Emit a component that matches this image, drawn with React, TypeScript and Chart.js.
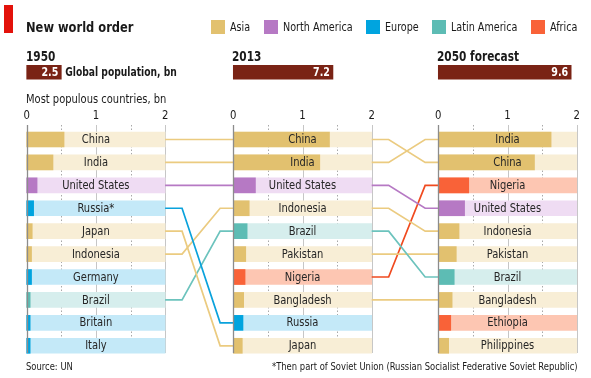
import React, { useEffect, useRef } from "react";
import { Chart, registerables } from "chart.js";

Chart.register(...registerables);

// ---------- data ----------
const REGIONS = ["Asia", "North America", "Europe", "Latin America", "Africa"];

const countries1950 = ["China", "India", "United States", "Russia*", "Japan", "Indonesia", "Germany", "Brazil", "Britain", "Italy"];
const regions1950 = ["Asia", "Asia", "North America", "Europe", "Asia", "Asia", "Europe", "Latin America", "Europe", "Europe"];
const pop1950 = [0.54, 0.38, 0.15, 0.1, 0.08, 0.07, 0.07, 0.05, 0.05, 0.05];

const countries2013 = ["China", "India", "United States", "Indonesia", "Brazil", "Pakistan", "Nigeria", "Bangladesh", "Russia", "Japan"];
const regions2013 = ["Asia", "Asia", "North America", "Asia", "Latin America", "Asia", "Africa", "Asia", "Europe", "Asia"];
const pop2013 = [1.39, 1.25, 0.32, 0.23, 0.2, 0.18, 0.17, 0.15, 0.14, 0.13];

const countries2050 = ["India", "China", "Nigeria", "United States", "Indonesia", "Pakistan", "Brazil", "Bangladesh", "Ethiopia", "Philippines"];
const regions2050 = ["Asia", "Asia", "Africa", "North America", "Asia", "Asia", "Latin America", "Asia", "Africa", "Asia"];
const pop2050 = [1.63, 1.39, 0.44, 0.38, 0.3, 0.26, 0.23, 0.2, 0.18, 0.15];

const panelTitles = ["1950", "2013", "2050 forecast"];
const globalPop = [2.5, 7.2, 9.6];

// rank links: [row in earlier panel, row in next panel]
const links1950to2013 = [[0, 0], [1, 1], [2, 2], [3, 8], [4, 9], [5, 3], [7, 4]];
const links2013to2050 = [[0, 1], [1, 0], [2, 3], [3, 4], [4, 6], [5, 5], [6, 2], [7, 7]];

const axisTicks = [0, 1, 2];
const gridSteps = [0.5, 1, 1.5, 2];

// ---------- styles / layout ----------
const DARK: Record<string, string> = {
  Asia: "#e2c16f",
  "North America": "#b679c4",
  Europe: "#00a4df",
  "Latin America": "#5dbcb4",
  Africa: "#f96238",
};
const LIGHT: Record<string, string> = {
  Asia: "#f8eed6",
  "North America": "#efdcf3",
  Europe: "#c4e9f8",
  "Latin America": "#d6eeed",
  Africa: "#fdc6b2",
};
const LINE: Record<string, string> = {
  Asia: "#ebcb80",
  "North America": "#b679c4",
  Europe: "#0aa2dc",
  "Latin America": "#6cc3bd",
  Africa: "#f04a1f",
};
const GLOBAL_COLOR = "#7a2315";
const FONT = '"DejaVu Sans Condensed", "DejaVu Sans", sans-serif';

const W = 591;
const H = 378;
const PX_PER_UNIT = 69.2;
const ZERO_PX = 26.7;
const ROW0_PX = 139.5;
const ROW_PX = 22.92;
const X_MIN = -ZERO_PX / PX_PER_UNIT;
const X_MAX = X_MIN + W / PX_PER_UNIT;
const Y_MIN = -ROW0_PX / ROW_PX;
const Y_MAX = Y_MIN + H / ROW_PX;
const PANEL_OFFSETS = [0, (233.3 - ZERO_PX) / PX_PER_UNIT, (438.3 - ZERO_PX) / PX_PER_UNIT];
const AXIS_MAX = 2;
const GLOBAL_ROW = -2.936;
const GLOBAL_DIVISOR = 5;
const GRID_TOP_ROW = -0.633;
const GRID_BOTTOM_ROW = 9.315;
const TICK_LABEL_ROW = -1.04;
const LINK_OUT = 0.245;
const LINK_IN = 0.19;

const panels = [
  { names: countries1950, regions: regions1950, values: pop1950 },
  { names: countries2013, regions: regions2013, values: pop2013 },
  { names: countries2050, regions: regions2050, values: pop2050 },
];
const linkSets = [links1950to2013, links2013to2050];

function buildDatasets() {
  const valueData: any[] = [];
  const valueColors: string[] = [];
  const bgData: any[] = [];
  const bgColors: string[] = [];
  panels.forEach((p, pi) => {
    const off = PANEL_OFFSETS[pi];
    p.values.forEach((v, r) => {
      valueData.push({ x: [off, off + v], y: r });
      valueColors.push(DARK[p.regions[r]]);
      bgData.push({ x: [off, off + AXIS_MAX], y: r });
      bgColors.push(LIGHT[p.regions[r]]);
    });
  });
  const globalData = globalPop.map((g, pi) => ({ x: [PANEL_OFFSETS[pi], PANEL_OFFSETS[pi] + g / GLOBAL_DIVISOR], y: GLOBAL_ROW }));

  const lineSets: any[] = [];
  linkSets.forEach((links, li) => {
    const from = PANEL_OFFSETS[li] + AXIS_MAX;
    const to = PANEL_OFFSETS[li + 1];
    links.forEach(([a, b]) => {
      lineSets.push({
        type: "line",
        indexAxis: "x",
        data: [
          { x: from, y: a },
          { x: from + LINK_OUT, y: a },
          { x: to - LINK_IN, y: b },
          { x: to, y: b },
        ],
        borderColor: LINE[panels[li].regions[a]],
        borderWidth: 1.7,
        pointRadius: 0,
        tension: 0,
        fill: false,
      });
    });
  });

  return [
    { type: "bar", data: valueData, backgroundColor: valueColors, barThickness: 15, grouped: false, borderWidth: 0 },
    { type: "bar", data: globalData, backgroundColor: GLOBAL_COLOR, barThickness: 14, grouped: false, borderWidth: 0 },
    ...lineSets,
    { type: "bar", data: bgData, backgroundColor: bgColors, barThickness: 15, grouped: false, borderWidth: 0 },
  ];
}

function drawText(ctx: any, text: string, x: number, y: number, align: string, sx: number) {
  ctx.save();
  ctx.translate(x, y);
  ctx.scale(sx, 1);
  ctx.textAlign = align;
  ctx.textBaseline = "middle";
  ctx.fillText(text, 0, 0);
  ctx.restore();
}

const panelPlugin = {
  id: "panelDecor",
  beforeDatasetsDraw(chart: any) {
    const { ctx } = chart;
    const x = chart.scales.x;
    const y = chart.scales.y;
    const top = y.getPixelForValue(GRID_TOP_ROW);
    const bottom = y.getPixelForValue(GRID_BOTTOM_ROW);
    ctx.save();
    PANEL_OFFSETS.forEach((off) => {
      gridSteps.forEach((t) => {
        const px = Math.round(x.getPixelForValue(off + t)) + 0.5;
        ctx.beginPath();
        ctx.lineWidth = 1;
        if (t % 1 !== 0) {
          ctx.setLineDash([1.5, 2]);
          ctx.strokeStyle = "#a8a8a8";
        } else {
          ctx.setLineDash([]);
          ctx.strokeStyle = "#c6c6c6";
        }
        ctx.moveTo(px, top);
        ctx.lineTo(px, bottom);
        ctx.stroke();
      });
      ctx.setLineDash([]);
      ctx.fillStyle = "#1a1a1a";
      ctx.font = `12.5px ${FONT}`;
      axisTicks.forEach((t) => {
        drawText(ctx, String(t), x.getPixelForValue(off + t), y.getPixelForValue(TICK_LABEL_ROW), "center", 0.9);
      });
    });
    ctx.restore();
  },
  afterDatasetsDraw(chart: any) {
    const { ctx } = chart;
    const x = chart.scales.x;
    const y = chart.scales.y;
    const top = y.getPixelForValue(GRID_TOP_ROW);
    const bottom = y.getPixelForValue(GRID_BOTTOM_ROW);
    ctx.save();
    PANEL_OFFSETS.forEach((off, pi) => {
      const px = Math.round(x.getPixelForValue(off)) + 0.5;
      ctx.beginPath();
      ctx.strokeStyle = "#8c8c8c";
      ctx.lineWidth = 1.3;
      ctx.moveTo(px, top);
      ctx.lineTo(px, bottom);
      ctx.stroke();

      ctx.fillStyle = "#262626";
      ctx.font = `12px ${FONT}`;
      panels[pi].names.forEach((n, r) => {
        drawText(ctx, n, x.getPixelForValue(off + AXIS_MAX / 2), y.getPixelForValue(r) + 0.5, "center", 0.92);
      });

      const end = x.getPixelForValue(off + globalPop[pi] / GLOBAL_DIVISOR);
      const gy = y.getPixelForValue(GLOBAL_ROW) + 0.5;
      ctx.font = `bold 12px ${FONT}`;
      ctx.fillStyle = "#ffffff";
      drawText(ctx, String(globalPop[pi]), end - 3, gy, "right", 0.88);
      if (pi === 0) {
        ctx.fillStyle = "#1a1a1a";
        drawText(ctx, "Global population, bn", end + 4, gy, "left", 0.85);
      }
    });
    ctx.restore();
  },
};

function Txt(props: { left?: number; right?: number; cy: number; size: number; bold?: boolean; sx?: number; children: any; color?: string }) {
  const lh = props.size + 4;
  const sx = props.sx ?? 1;
  const style: any = {
    position: "absolute",
    top: props.cy - lh / 2,
    lineHeight: `${lh}px`,
    fontSize: props.size,
    fontWeight: props.bold ? 700 : 400,
    fontFamily: FONT,
    color: props.color || "#1a1a1a",
    whiteSpace: "nowrap",
    transform: `scaleX(${sx})`,
  };
  if (props.left !== undefined) {
    style.left = props.left;
    style.transformOrigin = "left center";
  }
  if (props.right !== undefined) {
    style.right = props.right;
    style.transformOrigin = "right center";
  }
  return <div style={style}>{props.children}</div>;
}

const legendPos = [211, 264, 366, 432, 531];

export default function App() {
  const ref = useRef<HTMLCanvasElement>(null);
  useEffect(() => {
    if (!ref.current) return;
    const chart = new Chart(ref.current, {
      type: "bar",
      data: { datasets: buildDatasets() as any },
      options: {
        indexAxis: "y",
        animation: false,
        responsive: false,
        events: [],
        layout: { padding: 0 },
        scales: {
          x: { type: "linear", min: X_MIN, max: X_MAX, display: false, offset: false },
          y: { type: "linear", min: Y_MIN, max: Y_MAX, reverse: true, display: false, offset: false },
        },
        plugins: { legend: { display: false }, tooltip: { enabled: false } },
      },
      plugins: [panelPlugin],
    } as any);
    return () => chart.destroy();
  }, []);

  return (
    <div style={{ position: "fixed", left: 0, top: 0, width: W, height: H, background: "#fff", overflow: "hidden" }}>
      <canvas ref={ref} width={W} height={H} style={{ position: "absolute", left: 0, top: 0, width: W, height: H }} />
      <div style={{ position: "absolute", left: 4, top: 5, width: 9, height: 28, background: "#e3120b" }} />
      <Txt left={26} cy={27} size={14.5} bold sx={0.88}>New world order</Txt>
      {REGIONS.map((r, i) => (
        <React.Fragment key={r}>
          <div style={{ position: "absolute", left: legendPos[i], top: 20, width: 14, height: 14, background: DARK[r] }} />
          <Txt left={legendPos[i] + 19} cy={27} size={12} sx={0.89}>{r}</Txt>
        </React.Fragment>
      ))}
      {panelTitles.map((t, i) => (
        <Txt key={t} left={[26, 232, 437][i]} cy={57} size={13.5} bold sx={0.87}>{t}</Txt>
      ))}
      <Txt left={26} cy={99} size={12} sx={0.92}>Most populous countries, bn</Txt>
      <Txt left={26} cy={366} size={11} sx={0.85}>Source: UN</Txt>
      <Txt right={W - 578} cy={366} size={11} sx={0.85}>*Then part of Soviet Union (Russian Socialist Federative Soviet Republic)</Txt>
    </div>
  );
}
